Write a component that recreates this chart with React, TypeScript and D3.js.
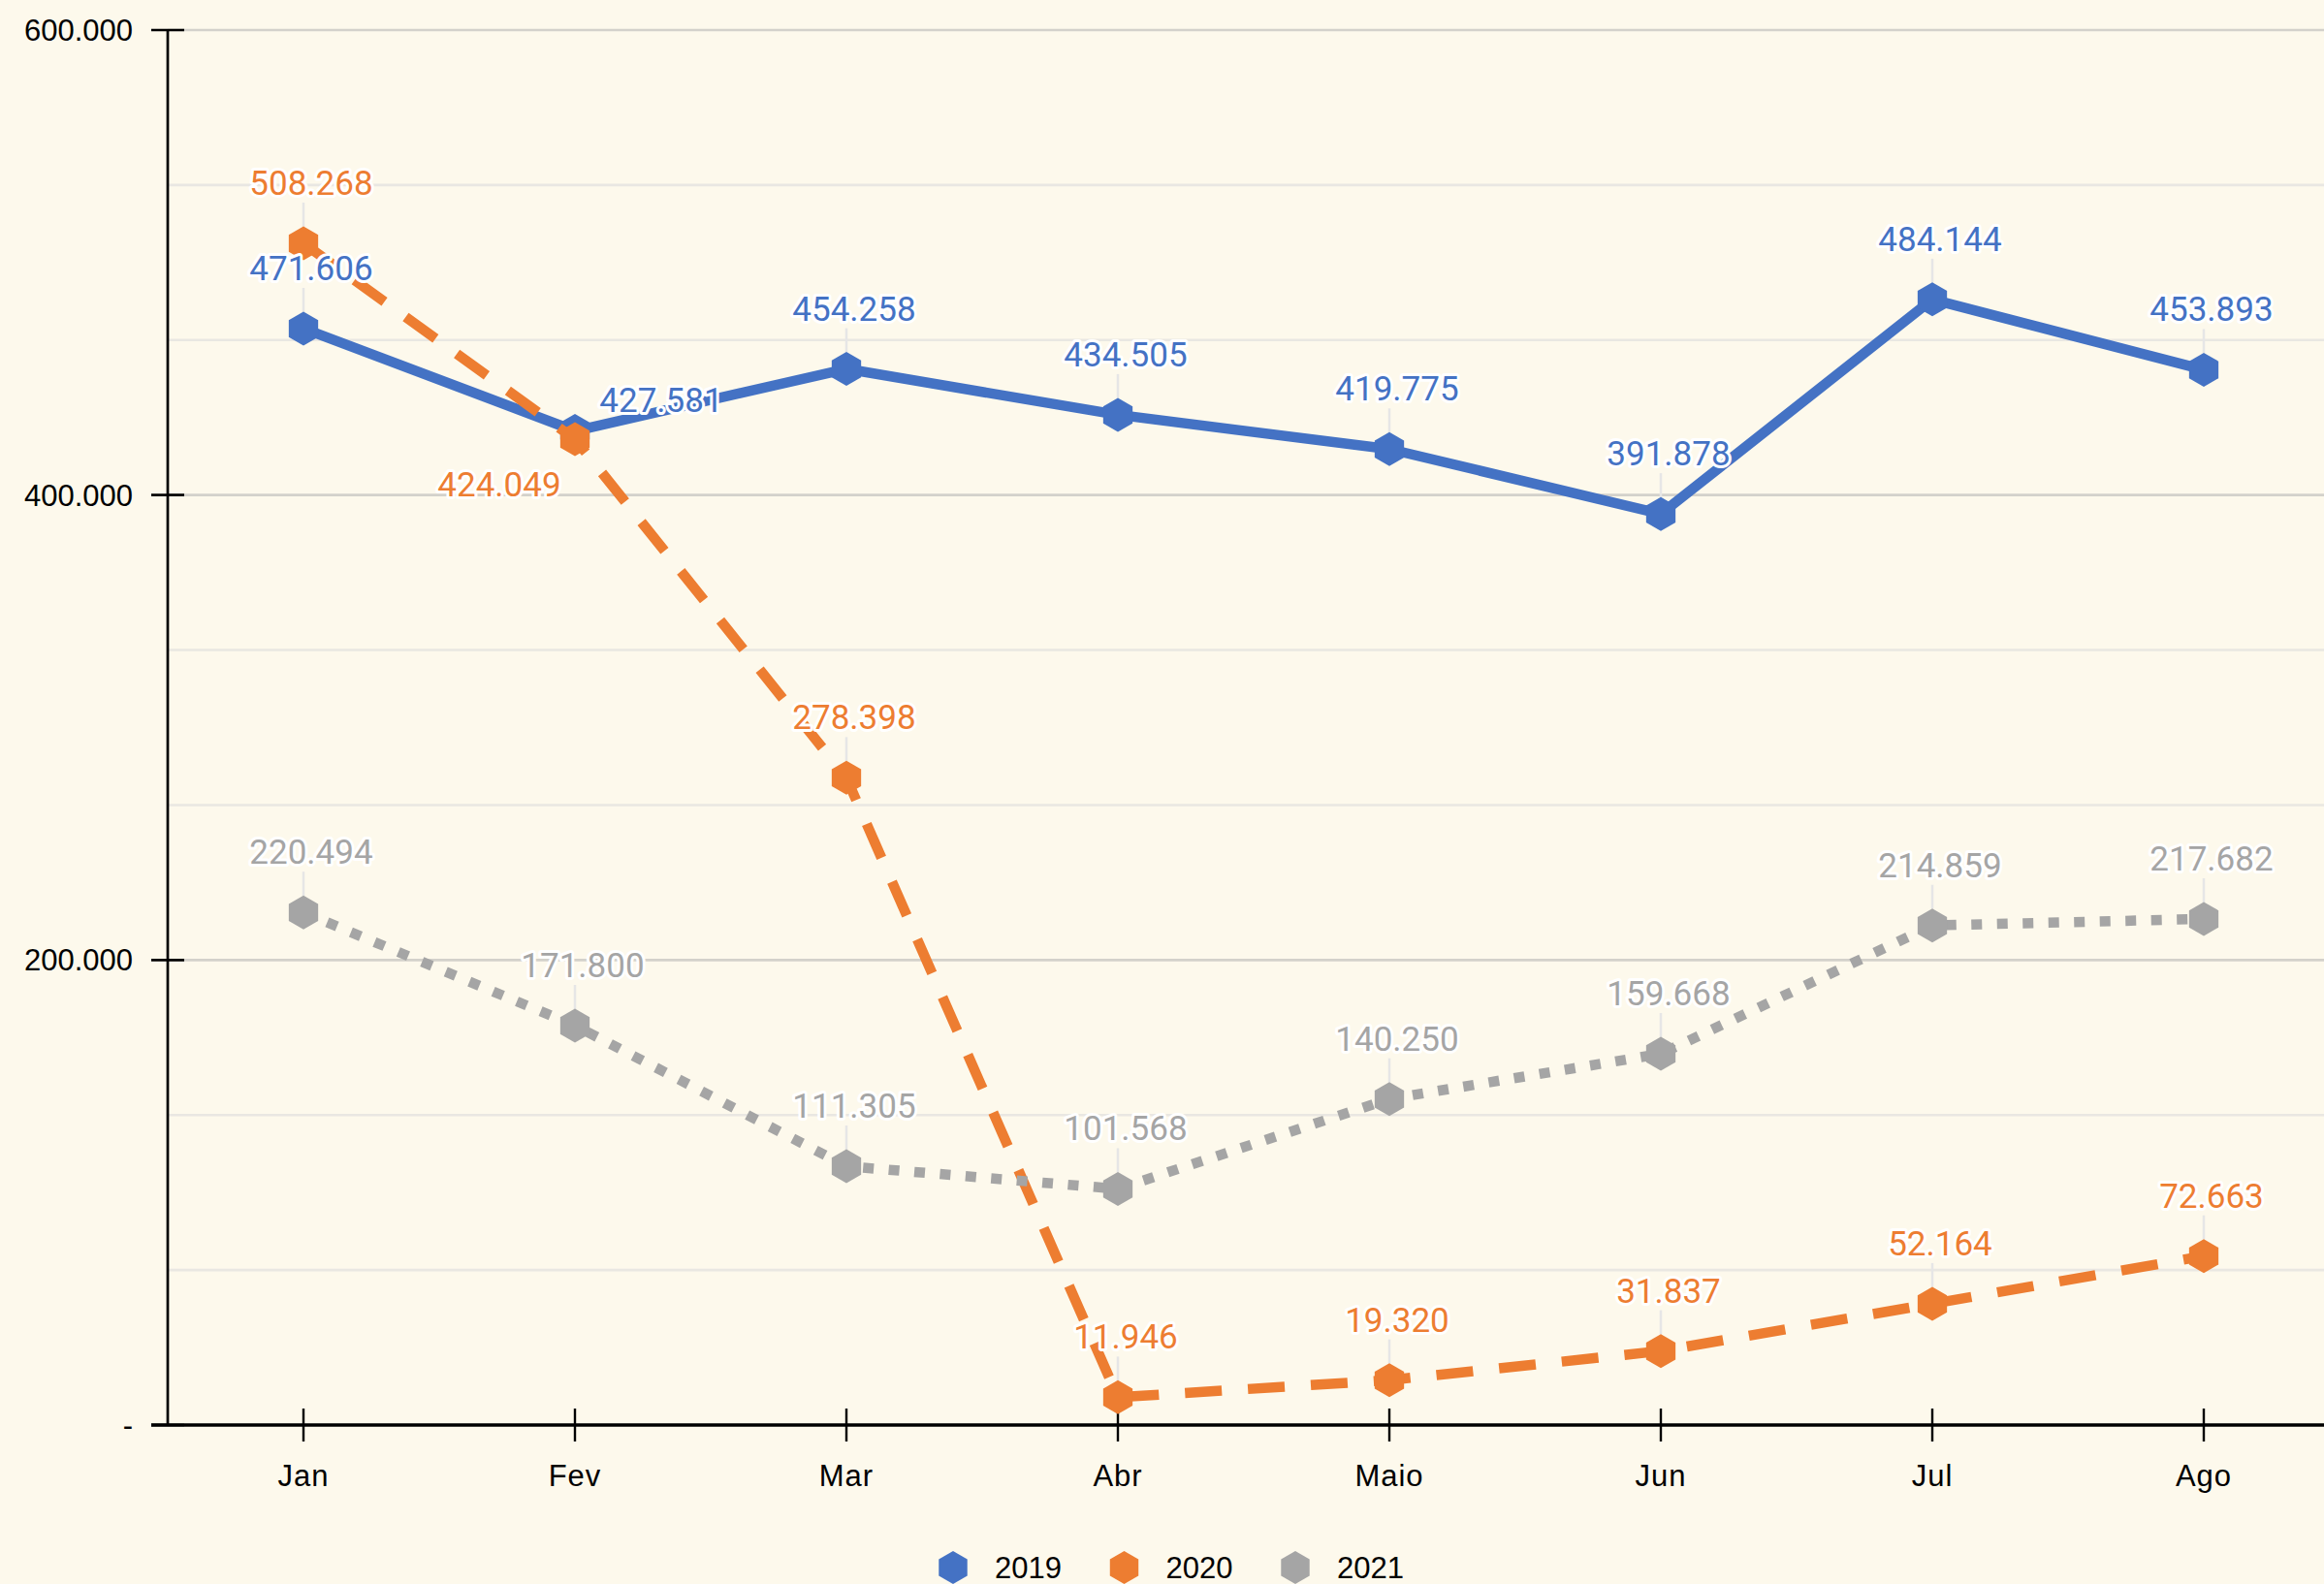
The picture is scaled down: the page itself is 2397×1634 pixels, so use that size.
import React, { useEffect, useRef } from "react";
import * as d3 from "d3";

const months = ["Jan", "Fev", "Mar", "Abr", "Maio", "Jun", "Jul", "Ago"];
const years = ["2019", "2020", "2021"];
const values2019 = [471606, 427581, 454258, 434505, 419775, 391878, 484144, 453893];
const values2020 = [508268, 424049, 278398, 11946, 19320, 31837, 52164, 72663];
const values2021 = [220494, 171800, 111305, 101568, 140250, 159668, 214859, 217682];
const yTickValues = [0, 200000, 400000, 600000];
const yTickLabels = ["-", "200.000", "400.000", "600.000"];

const colors = ["#4472C4", "#ED7D31", "#A5A5A5"];
const dashes = ["none", "38 27", "11 15.5"];

// label offsets from the point (a few labels were moved by hand in the original)
const defaultShift = [8, -50];
const shifts: Record<string, [number, number]> = {
  "0-1": [89, -20],
  "1-1": [-78, 59],
};

const hexPath = (r: number) => {
  const pts: [number, number][] = d3.range(6).map((k) => {
    const a = (Math.PI / 3) * k - Math.PI / 2;
    return [r * Math.cos(a), r * Math.sin(a)];
  });
  return d3.line()(pts) + "Z";
};

const App: React.FC = () => {
  const ref = useRef<SVGSVGElement>(null);

  useEffect(() => {
    const width = 2397;
    const height = 1634;
    const left = 173;
    const top = 31;
    const bottom = 1470;
    const right = 2413;

    const series = [values2019, values2020, values2021];

    const x = d3.scaleBand().domain(months).range([left, right]);
    const y = d3.scaleLinear().domain([0, 600000]).range([bottom, top]);
    const cx = (m: string) => x(m)! + x.bandwidth() / 2;

    const fmt = d3
      .formatLocale({ decimal: ",", thousands: ".", grouping: [3], currency: ["", ""] })
      .format(",d");

    const svg = d3.select(ref.current);
    svg.selectAll("*").remove();
    svg.attr("width", width).attr("height", height);

    svg.append("rect").attr("width", width).attr("height", height).attr("fill", "#FDF9EC");

    // gridlines: minor every 600000/9, major every 200000
    const gridVals = d3.range(1, 10).map((i) => (i * 600000) / 9);
    svg
      .append("g")
      .selectAll("line")
      .data(gridVals)
      .enter()
      .append("line")
      .attr("x1", left)
      .attr("x2", width)
      .attr("y1", (d) => y(d))
      .attr("y2", (d) => y(d))
      .attr("stroke", (d, i) => ((i + 1) % 3 === 0 ? "#D3D1CB" : "#E9E7E2"))
      .attr("stroke-width", 2.6);

    // y axis
    svg
      .append("line")
      .attr("x1", left)
      .attr("x2", left)
      .attr("y1", top)
      .attr("y2", bottom)
      .attr("stroke", "#000")
      .attr("stroke-width", 2.7);
    const yAx = svg.append("g");
    yAx
      .selectAll("line")
      .data(yTickValues)
      .enter()
      .append("line")
      .attr("x1", left - 17)
      .attr("x2", left + 17)
      .attr("y1", (d) => y(d))
      .attr("y2", (d) => y(d))
      .attr("stroke", "#000")
      .attr("stroke-width", 2.7);
    yAx
      .selectAll("text")
      .data(yTickValues)
      .enter()
      .append("text")
      .attr("x", 137)
      .attr("y", (d) => y(d) + 11)
      .attr("text-anchor", "end")
      .style("font-family", "'Liberation Sans', Arial, sans-serif")
      .style("font-size", "31px")
      .attr("fill", "#000")
      .text((d, i) => yTickLabels[i]);

    // x axis
    svg
      .append("line")
      .attr("x1", left - 17)
      .attr("x2", width)
      .attr("y1", bottom)
      .attr("y2", bottom)
      .attr("stroke", "#000")
      .attr("stroke-width", 3.6);
    const xAx = svg.append("g");
    xAx
      .selectAll("line")
      .data(months)
      .enter()
      .append("line")
      .attr("x1", (d) => cx(d))
      .attr("x2", (d) => cx(d))
      .attr("y1", bottom - 17)
      .attr("y2", bottom + 17)
      .attr("stroke", "#000")
      .attr("stroke-width", 2.4);
    xAx
      .selectAll("text")
      .data(months)
      .enter()
      .append("text")
      .attr("x", (d) => cx(d))
      .attr("y", 1533)
      .attr("text-anchor", "middle")
      .style("font-family", "'Liberation Sans', Arial, sans-serif")
      .style("font-size", "31px")
      .style("letter-spacing", "1px")
      .attr("fill", "#000")
      .text((d) => d);

    // leader lines
    const leaders = svg.append("g");
    series.forEach((vals, s) => {
      vals.forEach((v, i) => {
        if (shifts[`${s}-${i}`]) return;
        leaders
          .append("line")
          .attr("x1", cx(months[i]))
          .attr("x2", cx(months[i]))
          .attr("y1", y(v) + defaultShift[1] + 8)
          .attr("y2", y(v) - 17)
          .attr("stroke", "#E6E6E6")
          .attr("stroke-width", 2.5);
      });
    });

    // lines + markers
    const line = d3
      .line<number>()
      .x((d, i) => cx(months[i]))
      .y((d) => y(d));

    series.forEach((vals, s) => {
      svg
        .append("path")
        .datum(vals)
        .attr("fill", "none")
        .attr("stroke", colors[s])
        .attr("stroke-width", s === 2 ? 10.5 : 10.5)
        .attr("stroke-dasharray", dashes[s])
        .attr("stroke-linejoin", "round")
        .attr("d", line);
      svg
        .append("g")
        .selectAll("path")
        .data(vals)
        .enter()
        .append("path")
        .attr("transform", (d, i) => `translate(${cx(months[i])},${y(d)})`)
        .attr("d", hexPath(17.5))
        .attr("fill", colors[s]);
    });

    // data labels
    series.forEach((vals, s) => {
      svg
        .append("g")
        .selectAll("text")
        .data(vals)
        .enter()
        .append("text")
        .attr("x", (d, i) => cx(months[i]) + (shifts[`${s}-${i}`] || defaultShift)[0])
        .attr("y", (d, i) => y(d) + (shifts[`${s}-${i}`] || defaultShift)[1])
        .attr("text-anchor", "middle")
        .style("font-family", "Roboto, sans-serif")
        .style("font-size", "35px")
        .attr("fill", colors[s])
        .attr("stroke", "#FFFFFF")
        .attr("stroke-width", 6)
        .attr("stroke-linejoin", "round")
        .style("paint-order", "stroke")
        .text((d) => fmt(d));
    });

    // legend
    const legend = svg.append("g");
    years.forEach((yr, i) => {
      const lx = 983 + i * 176.5;
      legend
        .append("path")
        .attr("transform", `translate(${lx},1617)`)
        .attr("d", hexPath(17))
        .attr("fill", colors[i]);
      legend
        .append("text")
        .attr("x", lx + 43)
        .attr("y", 1628)
        .style("font-family", "'Liberation Sans', Arial, sans-serif")
        .style("font-size", "31px")
        .attr("fill", "#000")
        .text(yr);
    });
  }, []);

  return (
    <svg
      ref={ref}
      style={{ position: "absolute", left: 0, top: 0, display: "block" }}
    ></svg>
  );
};

export default App;
